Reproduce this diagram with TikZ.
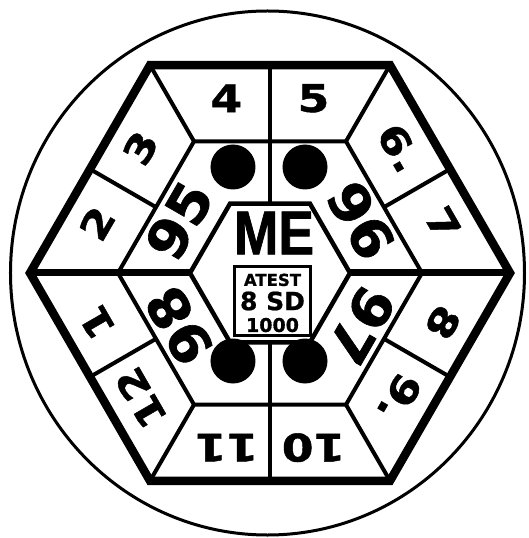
\documentclass[tikz,border=0pt]{standalone}
\usepackage{fontspec}
\setmainfont{DejaVu Sans}
\newfontfamily\monthfont[FakeStretch=1.2, FakeBold=1.2]{DejaVu Sans}
\newfontfamily\yearfont[FakeStretch=1.05, FakeBold=1.2]{DejaVu Sans}
\newfontfamily\stampfont[FakeBold=0.8]{DejaVu Sans}
\newfontfamily\mefont[FakeStretch=0.86, FakeBold=1.2]{Liberation Sans}
\usetikzlibrary{positioning}

\begin{document}
\begin{tikzpicture}[x=1pt, y=1pt,
    month/.style={font=\monthfont\fontsize{38}{38}\selectfont\bfseries, inner sep=0pt},
    year/.style={font=\yearfont\fontsize{54}{54}\selectfont\bfseries, inner sep=0pt},
    hole/.style={circle, fill, minimum size=45pt, inner sep=0pt},
    thin line/.style={line width=4pt}]

    \useasboundingbox (-270,-265) rectangle (259,273);

    % Surrounding circle
    \draw[line width=3pt] (-2.5,0) ellipse [x radius=257, y radius=262];

    % Hexagon corners: outer, month ring, centre
    \foreach \a in {0,60,...,300} {
        \coordinate (o\a) at (\a:240);
        \coordinate (m\a) at (\a:152);
        \coordinate (c\a) at (\a:80);
    }

    % Thick outer hexagon
    \draw[line width=8.5pt] (o0) -- (o60) -- (o120) -- (o180) -- (o240) -- (o300) -- cycle;

    % Inner edge of the month ring
    \draw[thin line] (m0) -- (m60) -- (m120) -- (m180) -- (m240) -- (m300) -- cycle;

    % Centre hexagon
    \draw[line width=4.5pt] (c0) -- (c60) -- (c120) -- (c180) -- (c240) -- (c300) -- cycle;

    % Corner spokes of the month ring
    \draw[thin line] (o60) -- (m60)  (o120) -- (m120)
                     (o240) -- (m240)  (o300) -- (m300);

    % Horizontal spokes, left and right
    \draw[line width=7pt] (o180) -- (c180)  (o0) -- (c0);

    % Vertical dividers, top and bottom
    \draw[thin line] (90:207.8) -- (90:69.3)  (-90:207.8) -- (-90:69.3);

    % Side dividers of the month ring
    \draw[thin line] (30:207.8) -- (30:131.6)   (150:207.8) -- (150:131.6)
                     (-30:207.8) -- (-30:131.6) (-150:207.8) -- (-150:131.6);

    % Months
    \node[month] (n4) at (104:180) {4};
    \node[month] (n5) at (76:180) {5};
    \node[month, rotate=-60] (n6) at (44:180) {6.};
    \node[month, rotate=-60] (n7) at (16:180) {7};
    \node[month, rotate=-120] (n8) at (-16:180) {8};
    \node[month, rotate=-120] (n9) at (-44:180) {9.};
    \node[month, rotate=180] (n10) at (-76:180) {10};
    \node[month, rotate=180] (n11) at (-104:180) {11};
    \node[month, rotate=120] (n12) at (-136:180) {12};
    \node[month, rotate=120] (n1) at (-164:180) {1};
    \node[month, rotate=60] (n2) at (164:180) {2};
    \node[month, rotate=60] (n3) at (136:180) {3};

    % Years
    \node[year, rotate=60] (y95) at (150:105) {95};
    \node[year, rotate=-60] (y96) at (30:105) {96};
    \node[year, rotate=-120] (y97) at (-30:105) {97};
    \node[year, rotate=120] (y98) at (-150:105) {98};

    % Dots
    \node[hole] (dotA) at (-37,106) {};
    \node[hole] (dotB) at (35,106) {};
    \node[hole] (dotC) at (-37,-88) {};
    \node[hole] (dotD) at (35,-88) {};

    % Maker mark
    \node[font=\mefont\fontsize{62}{62}\selectfont\bfseries, inner sep=0pt] (me) at (4,40) {ME};

    % Stamp box
    \node[draw, line width=3pt, minimum width=76pt, minimum height=69pt,
          inner sep=0pt] (stamp) at (2.5,-28) {};
    \node[font=\stampfont\fontsize{25}{25}\selectfont\bfseries, inner sep=0pt] (sd) at (stamp.center) {8 SD};
    \node[font=\stampfont\fontsize{16.5}{16.5}\selectfont\bfseries, inner sep=0pt, above=5pt of sd] (atest) {ATEST};
    \node[font=\stampfont\fontsize{19}{19}\selectfont\bfseries, inner sep=0pt, below=7pt of sd] (count) {1000};

\end{tikzpicture}
\end{document}
